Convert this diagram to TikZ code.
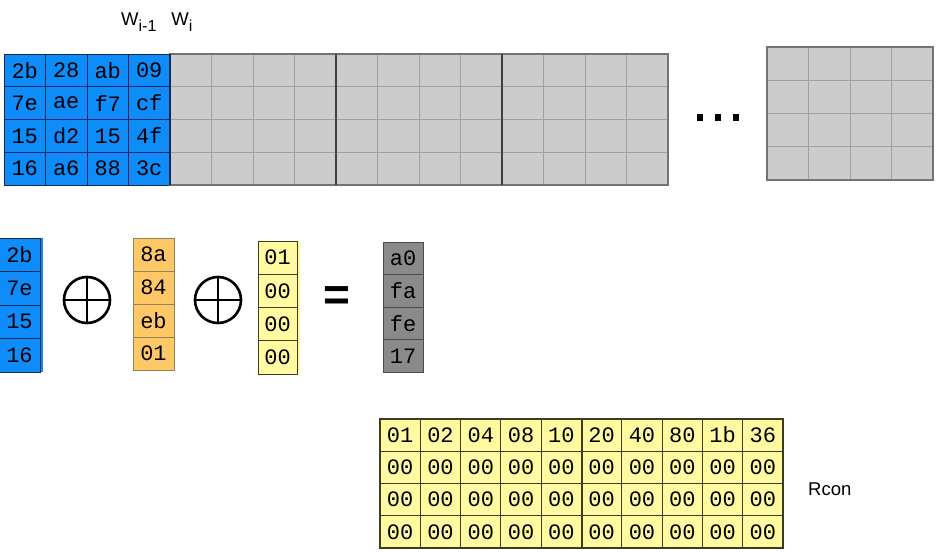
\documentclass[tikz,border=0pt]{standalone}
\usepackage{fontspec}
\setmainfont{Liberation Sans}
\newfontfamily\cellfont{Liberation Mono}
\definecolor{cblue}{RGB}{14,140,250}
\definecolor{cbline}{RGB}{20,40,90}
\definecolor{corange}{RGB}{255,200,102}
\definecolor{coline}{RGB}{150,130,90}
\definecolor{cyellow}{RGB}{255,250,160}
\definecolor{cyline}{RGB}{60,60,30}
\definecolor{cgray}{RGB}{204,204,204}
\definecolor{cgline}{RGB}{160,160,160}
\definecolor{cdgray}{RGB}{138,138,138}
\tikzset{
  cellbox/.style={rectangle, anchor=north west, inner sep=0pt, outer sep=0pt,
    font=\cellfont\fontsize{22}{22}\selectfont, text=black},
  bluecell/.style={cellbox, fill=cblue, draw=cbline, line width=0.8pt,
    minimum width=41.5pt, minimum height=32.75pt},
  graycell/.style={cellbox, fill=cgray, draw=cgline, line width=0.6pt,
    minimum width=41.5pt, minimum height=32.75pt},
  grayrcell/.style={cellbox, fill=cgray, draw=cgline, line width=0.6pt,
    minimum width=41.5pt, minimum height=33.25pt},
  colblue/.style={cellbox, fill=cblue, draw=cbline, line width=0.8pt,
    minimum width=41pt, minimum height=33.5pt},
  colorange/.style={cellbox, fill=corange, draw=coline, line width=0.8pt,
    minimum width=41pt, minimum height=33pt},
  colyellow/.style={cellbox, fill=cyellow, draw=cyline, line width=0.8pt,
    minimum width=39pt, minimum height=33.25pt},
  coldgray/.style={cellbox, fill=cdgray, draw=black!70, line width=0.8pt,
    minimum width=40pt, minimum height=32.5pt},
  rconcell/.style={cellbox, fill=cyellow, draw=cyline, line width=1pt,
    minimum width=40.3pt, minimum height=32.25pt},
  xorsym/.style={circle, draw=black, line width=2.6pt, minimum size=46pt, inner sep=0pt},
  blockedge/.style={draw=black!75, line width=1.2pt},
  outeredge/.style={draw=black!55, line width=1.6pt},
  dotsq/.style={fill=black}
}
\begin{document}
\begin{tikzpicture}[x=1pt,y=-1pt]
\useasboundingbox (0,0) rectangle (936,551);
% label
\node[anchor=base west, inner sep=0pt, font=\fontsize{18.5}{20}\selectfont] (wlabel) at (121,26)
  {W\raisebox{-5.5pt}{\fontsize{16}{16}\selectfont i-1}\hspace{15pt}W\raisebox{-5.5pt}{\fontsize{16}{16}\selectfont i}};
% top blue state
\foreach \row [count=\r from 0] in {{2b,28,ab,09},{7e,ae,f7,cf},{15,d2,15,4f},{16,a6,88,3c}} {
  \foreach \v [count=\c from 0] in \row {
    \node[bluecell] (tb-\r-\c) at ({4+41.5*\c},{54+32.75*\r}) {\v};
  }
}
% gray key schedule blocks
\foreach \r in {0,...,3} {
  \foreach \c in {4,...,15} {
    \node[graycell] (tg-\r-\c) at ({4+41.5*\c},{54+32.75*\r}) {};
  }
}
\draw[outeredge] (tg-0-4.north west) rectangle (tg-3-15.south east);
\draw[blockedge] (tg-0-8.north west) -- (tg-3-8.south west);
\draw[blockedge] (tg-0-12.north west) -- (tg-3-12.south west);
\draw[cbline, line width=1.2pt] (tb-0-3.north east) -- (tb-3-3.south east);
% dots
\fill[dotsq] (697,114) rectangle (703,121);
\fill[dotsq] (715,114) rectangle (721,121);
\fill[dotsq] (733,114) rectangle (739,121);
% last block
\foreach \r in {0,...,3} {
  \foreach \c in {0,...,3} {
    \node[grayrcell] (rg-\r-\c) at ({767+41.5*\c},{47+33.25*\r}) {};
  }
}
\draw[outeredge] (rg-0-0.north west) rectangle (rg-3-3.south east);
% middle row: blue column
\fill[cblue] (0,238) rectangle (43,372);
\foreach \v [count=\r from 0] in {2b,7e,15,16} {
  \node[colblue] (mb-\r) at (-1,{238+33.5*\r}) {\v};
}
\node[xorsym] (x1) at (87,300) {};
\draw[line width=2.6pt] (x1.north) -- (x1.south) (x1.west) -- (x1.east);
\foreach \v [count=\r from 0] in {8a,84,eb,01} {
  \node[colorange] (mo-\r) at (133,{238+33*\r}) {\v};
}
\node[xorsym] (x2) at (218,300) {};
\draw[line width=2.6pt] (x2.north) -- (x2.south) (x2.west) -- (x2.east);
\fill[cyellow] (258,241) rectangle (300,374);
\foreach \v [count=\r from 0] in {01,00,00,00} {
  \node[colyellow] (my-\r) at (258,{241+33.25*\r}) {\v};
}
\node[font=\bfseries\fontsize{46}{46}\selectfont, inner sep=0pt] (eq) at (337,299) {=};
\foreach \v [count=\r from 0] in {a0,fa,fe,17} {
  \node[coldgray] (mg-\r) at (383,{242+32.5*\r}) {\v};
}
% Rcon
\foreach \row [count=\r from 0] in {{01,02,04,08,10,20,40,80,1b,36},{00,00,00,00,00,00,00,00,00,00},{00,00,00,00,00,00,00,00,00,00},{00,00,00,00,00,00,00,00,00,00}} {
  \foreach \v [count=\c from 0] in \row {
    \node[rconcell] (rc-\r-\c) at ({380+40.3*\c},{419+32.25*\r}) {\v};
  }
}
\draw[cyline, line width=2pt] (rc-0-5.north west) -- (rc-3-5.south west);
\draw[cyline, line width=1.5pt] (rc-0-0.north west) rectangle (rc-3-9.south east);
\node[anchor=west, inner sep=0pt, font=\fontsize{18.5}{20}\selectfont] (rconlabel) at (808,489) {Rcon};
\end{tikzpicture}
\end{document}
